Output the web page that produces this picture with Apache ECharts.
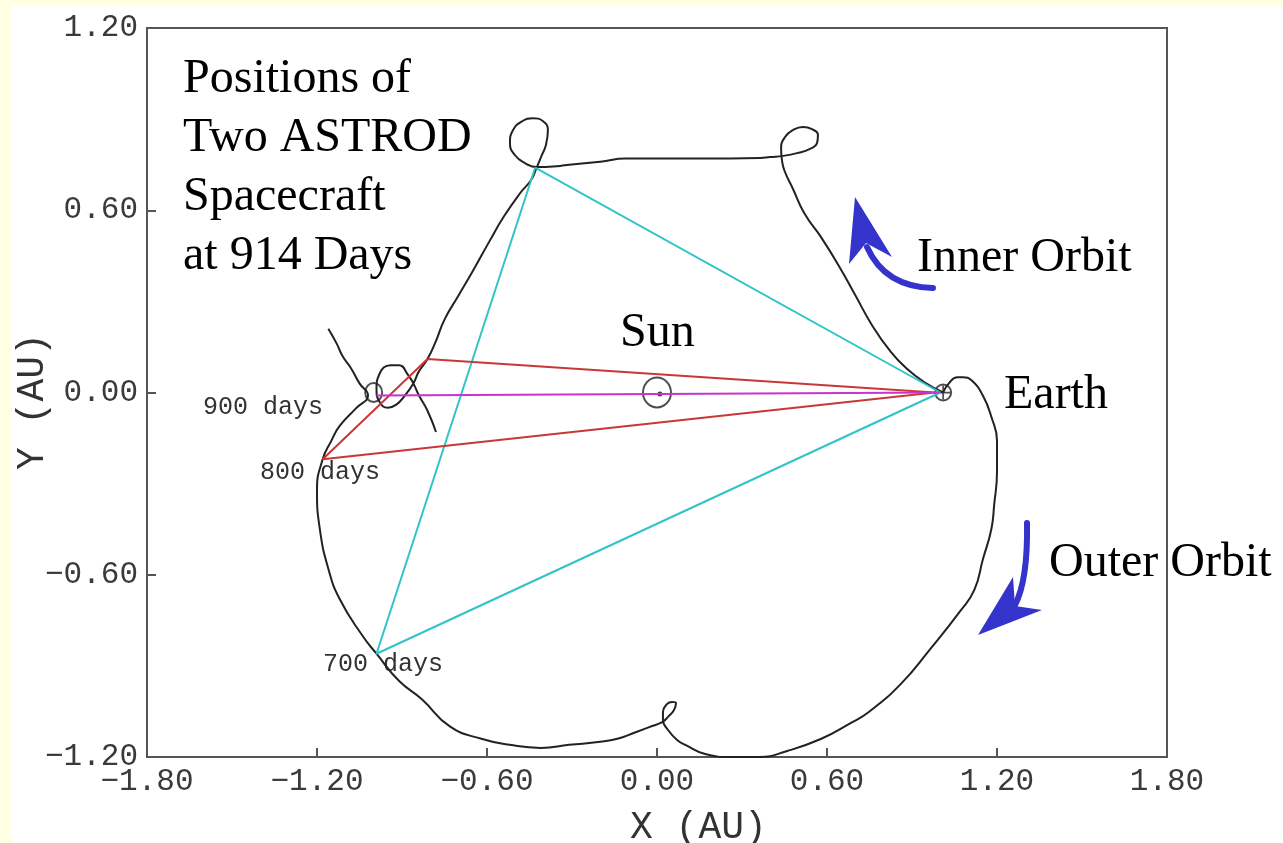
<!DOCTYPE html>
<html>
<head>
<meta charset="utf-8">
<style>
html, body { margin: 0; padding: 0; background: #ffffe4; }
#main { width: 1283px; height: 843px; }
</style>
<script src="https://cdn.jsdelivr.net/npm/echarts@6/dist/echarts.min.js"></script>
</head>
<body>
<div id="main"></div>
<script>
// track of the outer-orbit spacecraft (AU), launch at Earth -> 914 days
let outerOrbit = [
  [1.01, 0.00], [1.03, 0.03], [1.06, 0.05], [1.08, 0.05], [1.11, 0.04], [1.15, -0.01],
  [1.18, -0.08], [1.20, -0.16], [1.20, -0.26], [1.19, -0.37], [1.18, -0.45], [1.15, -0.55],
  [1.12, -0.65], [1.07, -0.72], [0.96, -0.85], [0.86, -0.96], [0.75, -1.05], [0.68, -1.09],
  [0.58, -1.14], [0.46, -1.18], [0.36, -1.20], [0.26, -1.20], [0.17, -1.19], [0.10, -1.16],
  [0.071, -1.144], [0.039, -1.111], [0.021, -1.078], [0.021, -1.052], [0.035, -1.026],
  [0.053, -1.019], [0.067, -1.022], [0.060, -1.045], [0.039, -1.068], [0.018, -1.085],
  [-0.025, -1.101], [-0.08, -1.12], [-0.14, -1.14], [-0.20, -1.15],
  [-0.31, -1.16], [-0.41, -1.17], [-0.52, -1.16], [-0.62, -1.14], [-0.73, -1.10], [-0.83, -1.01],
  [-0.91, -0.95], [-0.99, -0.86], [-1.04, -0.80], [-1.12, -0.68], [-1.16, -0.58], [-1.19, -0.45],
  [-1.20, -0.32], [-1.18, -0.22], [-1.15, -0.16], [-1.12, -0.11], [-1.06, -0.05], [-1.02, -0.01],
  [-1.05, 0.03], [-1.08, 0.08], [-1.11, 0.12], [-1.13, 0.16], [-1.16, 0.21]
];
// track of the inner-orbit spacecraft (AU)
let innerOrbit = [
  [1.01, 0.00], [0.95, 0.03], [0.88, 0.08], [0.82, 0.14], [0.76, 0.22], [0.70, 0.32],
  [0.64, 0.42], [0.58, 0.51], [0.52, 0.59], [0.48, 0.67], [0.45, 0.73],
  [0.441, 0.765], [0.438, 0.805], [0.452, 0.841], [0.480, 0.864], [0.515, 0.874],
  [0.547, 0.867], [0.568, 0.848], [0.565, 0.821], [0.540, 0.802], [0.494, 0.788],
  [0.445, 0.779], [0.399, 0.775], [0.364, 0.772],
  [0.15, 0.77], [0.01, 0.77], [-0.11, 0.77], [-0.20, 0.76], [-0.31, 0.75], [-0.342, 0.746],
  [-0.424, 0.742], [-0.466, 0.755], [-0.501, 0.781], [-0.519, 0.821], [-0.508, 0.864],
  [-0.476, 0.893], [-0.438, 0.903], [-0.402, 0.893], [-0.385, 0.864], [-0.392, 0.815],
  [-0.409, 0.776], [-0.424, 0.742], [-0.445, 0.699],
  [-0.48, 0.66], [-0.54, 0.58], [-0.59, 0.50], [-0.65, 0.40], [-0.70, 0.32], [-0.75, 0.24],
  [-0.78, 0.17], [-0.81, 0.11], [-0.84, 0.07], [-0.86, 0.03], [-0.89, -0.01], [-0.92, -0.04],
  [-0.95, -0.05], [-0.98, -0.03], [-0.99, 0.01], [-0.98, 0.06], [-0.94, 0.09], [-0.91, 0.09],
  [-0.88, 0.06], [-0.86, 0.03], [-0.84, -0.01], [-0.81, -0.06], [-0.78, -0.13]
];
// triangles spacecraft-spacecraft-Earth
let links700 = [[-0.43, 0.74], [-0.99, -0.86], [1.00, 0.00], [-0.43, 0.74]];
let links800 = [[-0.81, 0.11], [-1.18, -0.22], [0.98, 0.00], [-0.81, 0.11]];
let links900 = [[-0.99, -0.01], [1.00, 0.00]];

let sunPos = [[0.00, 0.00]];
let sunDot = [[0.01, -0.005]];
let earthPos = [[1.01, 0.00]];
let day900Pos = [[-1.00, 0.00]];

let xTicks = { min: -1.8, max: 1.8, step: 0.6 };
let yTicks = { min: -1.2, max: 1.2, step: 0.6 };

let chart = echarts.init(document.getElementById('main'));

let monoFont = '"Liberation Mono", "DejaVu Sans Mono", monospace';
let serifFont = '"Liberation Serif", "Times New Roman", serif';

function tickFmt(v) {
  if (Math.abs(v) < 1e-9) return '0.00';
  return (v < 0 ? '\u2212' : '') + Math.abs(v).toFixed(2);
}

function axisCfg(t) {
  return {
    type: 'value',
    min: t.min,
    max: t.max,
    interval: t.step,
    axisLine: { show: true, onZero: false, lineStyle: { color: '#555', width: 2 } },
    axisTick: { show: true, inside: true, length: 9, lineStyle: { color: '#555', width: 2 } },
    axisLabel: { formatter: tickFmt, fontFamily: monoFont, fontSize: 31, color: '#3a3a3a', margin: 9 },
    splitLine: { show: false }
  };
}

function lineSeries(data, color, width, smooth) {
  return {
    type: 'line',
    data: data,
    showSymbol: false,
    smooth: smooth,
    lineStyle: { color: color, width: width },
    animation: false,
    silent: true
  };
}

function bigText(x, y, text, extra) {
  return Object.assign({
    type: 'text', x: x, y: y, silent: true,
    style: { text: text, font: '48px ' + serifFont, fill: '#000',
             textAlign: 'left', textVerticalAlign: 'middle', align: 'left', verticalAlign: 'middle' }
  }, extra || {});
}

function smallText(x, y, text, size, extra) {
  return Object.assign({
    type: 'text', x: x, y: y, silent: true,
    style: { text: text, font: size + 'px ' + monoFont, fill: '#333',
             textAlign: 'left', textVerticalAlign: 'middle', align: 'left', verticalAlign: 'middle' }
  }, extra || {});
}

let blue = '#3434cc';

let option = {
  animation: false,
  grid: {
    left: 147, right: 116, top: 28, bottom: 86,
    show: true, borderColor: '#555', borderWidth: 2, backgroundColor: '#fff',
    outerBoundsMode: 'none'
  },
  xAxis: axisCfg(xTicks),
  yAxis: axisCfg(yTicks),
  series: [
    lineSeries(outerOrbit, '#222', 2, 0.5),
    lineSeries(innerOrbit, '#222', 2, 0.5),
    lineSeries(links700, '#30c4c8', 2, false),
    lineSeries(links800, '#c83838', 2, false),
    lineSeries(links900, '#cc33cc', 2, false),
    {
      type: 'scatter', data: sunPos, symbol: 'circle', symbolSize: [28, 30], silent: true,
      itemStyle: { color: 'rgba(0,0,0,0)', borderColor: '#222', borderWidth: 2 }
    },
    {
      type: 'scatter', data: sunDot, symbol: 'circle', symbolSize: 5, silent: true,
      itemStyle: { color: '#111' }
    },
    {
      type: 'scatter', data: earthPos, symbol: 'circle', symbolSize: 16, silent: true,
      itemStyle: { color: 'rgba(0,0,0,0)', borderColor: '#222', borderWidth: 2 }
    },
    {
      type: 'scatter', data: earthPos, symbol: 'path://M-1,-8H1V8H-1ZM-8,-1H8V1H-8Z',
      symbolSize: 14, silent: true, itemStyle: { color: '#222' }
    },
    {
      type: 'scatter', data: day900Pos, symbol: 'circle', symbolSize: [17, 19], silent: true,
      itemStyle: { color: 'rgba(0,0,0,0)', borderColor: '#222', borderWidth: 2 }
    }
  ],
  graphic: [
    { type: 'rect', z: -100, silent: true, shape: { x: 12, y: 5, width: 1271, height: 838 }, style: { fill: '#fff' } },
    {
      type: 'text', x: 183, y: 50, silent: true,
      style: { text: 'Positions of\nTwo ASTROD\nSpacecraft\nat 914 Days', font: '48px ' + serifFont,
               fill: '#000', lineHeight: 59, textAlign: 'left', textVerticalAlign: 'top', align: 'left', verticalAlign: 'top' }
    },
    bigText(620, 333, 'Sun'),
    bigText(1004, 395, 'Earth'),
    bigText(917, 258, 'Inner Orbit'),
    bigText(1049, 563, 'Outer Orbit'),
    smallText(203, 407, '900 days', 25),
    smallText(260, 472, '800 days', 25),
    smallText(323, 664, '700 days', 25),
    smallText(630, 828, 'X (AU)', 38),
    smallText(33, 470, 'Y (AU)', 38, { rotation: Math.PI / 2 }),
    // inner orbit arrow
    {
      type: 'bezierCurve', silent: true,
      shape: { x1: 933, y1: 288, cpx1: 885, cpy1: 287, x2: 867, y2: 247 },
      style: { stroke: blue, lineWidth: 6, fill: null, lineCap: 'round' }
    },
    {
      type: 'polygon', silent: true,
      shape: { points: [[855, 197], [892, 257], [866, 243], [849, 264]] },
      style: { fill: blue }
    },
    // outer orbit arrow
    {
      type: 'bezierCurve', silent: true,
      shape: { x1: 1027, y1: 523, cpx1: 1028, cpy1: 580, x2: 1015, y2: 605 },
      style: { stroke: blue, lineWidth: 6, fill: null, lineCap: 'round' }
    },
    {
      type: 'polygon', silent: true,
      shape: { points: [[978, 635], [1013, 577], [1015, 606], [1042, 610]] },
      style: { fill: blue }
    }
  ]
};

chart.setOption(option);
</script>
</body>
</html>
